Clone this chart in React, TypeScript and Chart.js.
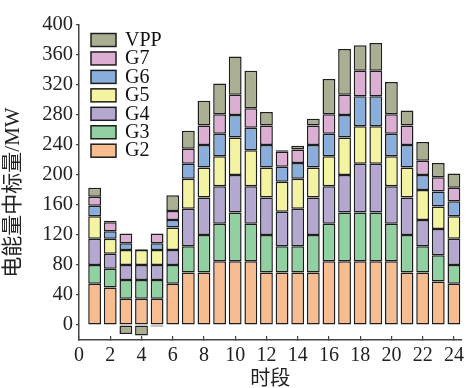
import React, { useEffect, useRef } from 'react';
import { Chart, registerables } from 'chart.js';

Chart.register(...registerables);

// Hourly trading periods
const periods = [1, 2, 3, 4, 5, 6, 7, 8, 9, 10, 11, 12, 13, 14, 15, 16, 17, 18, 19, 20, 21, 22, 23, 24];

// Cleared energy per unit (MW)
const g2 = [55, 50, 35, 35, 35, 55, 70, 70, 85, 85, 85, 70, 70, 70, 70, 85, 85, 85, 85, 85, 70, 70, 58, 55];
const g3 = [25, 25, 25, 25, 25, 25, 35, 50, 50, 65, 50, 50, 35, 35, 50, 50, 65, 65, 65, 50, 50, 35, 35, 25];
const g4 = [35, 20, 20, 20, 20, 20, 50, 50, 50, 50, 50, 50, 46, 50, 50, 50, 50, 65, 65, 50, 50, 35, 35, 35];
const g5 = [30, 20, 20, 20, 20, 30, 40, 40, 40, 50, 48, 40, 40, 40, 40, 40, 50, 50, 50, 40, 40, 40, 30, 30];
const g6 = [14, 10, 9, 0, 9, 10, 20, 30, 30, 30, 30, 30, 20, 21, 30, 30, 30, 40, 40, 30, 30, 20, 20, 20];
const g7 = [12, 12, 13, 1, 13, 12, 20, 26, 26, 27, 26, 26, 20, 18, 26, 26, 27, 34, 34, 26, 26, 19, 19, 18];
const vpp = [12, 2, -12, -14, -2, 21, 24, 33, 41, 51, 50, 18, 2, 5, 9, 47, 61, 34, 37, 43, 20, 25, 19, 19];

// Axis ticks
const xTicks = [0, 2, 4, 6, 8, 10, 12, 14, 16, 18, 20, 22, 24];
const yTicks = [0, 40, 80, 120, 160, 200, 240, 280, 320, 360, 400];

const seriesNames = ['G2', 'G3', 'G4', 'G5', 'G6', 'G7', 'VPP'];
const seriesValues = [g2, g3, g4, g5, g6, g7, vpp];
const seriesColors = ['#F7BD91', '#91D0A0', '#B4A8D0', '#F3F3A1', '#89AEDC', '#DDAED3', '#A9AF90'];

const xTitle = '时段';
const yTitle = '电能量中标量/MW';

const SERIF = '"Liberation Serif", "Noto Sans CJK SC", serif';
const INK = '#1e1e1e';
const AXIS = '#444444';

// Legend inside the plot area (top-left, last series on top) and the vertical axis title
const annotations = {
  id: 'annotations',
  afterDraw(chart: any) {
    const { ctx, chartArea } = chart;
    const items = chart.data.datasets.slice().reverse();
    ctx.save();
    ctx.font = `20px ${SERIF}`;
    ctx.textBaseline = 'middle';
    ctx.textAlign = 'left';
    items.forEach((ds: any, i: number) => {
      const bx = chartArea.left + 12;
      const by = chartArea.top + 8.5 + i * 18.45;
      ctx.fillStyle = ds.backgroundColor;
      ctx.fillRect(bx, by, 25, 13);
      ctx.lineWidth = 1.5;
      ctx.strokeStyle = INK;
      ctx.strokeRect(bx, by, 25, 13);
      ctx.fillStyle = '#111';
      ctx.fillText(ds.label, bx + 34, by + 7);
    });

    ctx.translate(13, (chartArea.top + chartArea.bottom) / 2 + 10);
    ctx.rotate(-Math.PI / 2);
    ctx.textAlign = 'center';
    ctx.font = `21px ${SERIF}`;
    ctx.fillStyle = '#222';
    ctx.fillText(yTitle, 0, 0);
    ctx.restore();
  },
};

export default function App() {
  const canvasRef = useRef<HTMLCanvasElement | null>(null);

  useEffect(() => {
    if (!canvasRef.current) return;
    const datasets = seriesNames.map((name, k) => ({
      label: name,
      data: periods.map((p, i) => ({ x: p, y: seriesValues[k][i] })),
      backgroundColor: seriesColors[k],
      borderColor: INK,
      borderWidth: 1.5,
      borderSkipped: false as const,
      barPercentage: 0.82,
      categoryPercentage: 1,
    }));

    const chart = new Chart(canvasRef.current, {
      type: 'bar',
      data: { datasets },
      plugins: [annotations],
      options: {
        animation: false,
        responsive: true,
        maintainAspectRatio: false,
        layout: { padding: { left: 0, top: 25, right: 5, bottom: 0 } },
        plugins: {
          legend: { display: false },
          tooltip: { enabled: false },
        },
        scales: {
          x: {
            type: 'linear',
            stacked: true,
            offset: false,
            min: 0,
            max: 24.5,
            afterFit: (scale: any) => {
              scale.height = 48;
            },
            afterBuildTicks: (scale: any) => {
              scale.ticks = xTicks.map((v) => ({ value: v }));
            },
            ticks: {
              includeBounds: false,
              autoSkip: false,
              maxRotation: 0,
              color: '#222',
              padding: 8,
              font: { family: SERIF, size: 20 },
            },
            grid: {
              display: true,
              offset: false,
              drawOnChartArea: false,
              drawTicks: true,
              tickLength: -4,
              color: AXIS,
              lineWidth: 1.2,
            },
            border: { display: true, color: AXIS, width: 1.5 },
            title: {
              display: true,
              text: xTitle,
              color: '#222',
              font: { family: SERIF, size: 20, lineHeight: 1 },
              padding: { top: 0, bottom: -2 },
            },
          },
          y: {
            type: 'linear',
            stacked: true,
            min: -20,
            max: 400,
            afterFit: (scale: any) => {
              scale.width = 79;
            },
            afterBuildTicks: (scale: any) => {
              scale.ticks = yTicks.map((v) => ({ value: v }));
            },
            ticks: {
              includeBounds: false,
              autoSkip: false,
              color: '#222',
              padding: 3,
              font: { family: SERIF, size: 20.5 },
            },
            grid: {
              display: true,
              drawOnChartArea: false,
              drawTicks: true,
              tickLength: 3,
              color: AXIS,
              lineWidth: 1.2,
            },
            border: { display: true, color: AXIS, width: 1.5 },
          },
        },
      },
    });
    return () => chart.destroy();
  }, []);

  return (
    <div style={{ position: 'fixed', left: 0, top: 0, width: 472, height: 388, background: '#fff' }}>
      <canvas ref={canvasRef} />
    </div>
  );
}
